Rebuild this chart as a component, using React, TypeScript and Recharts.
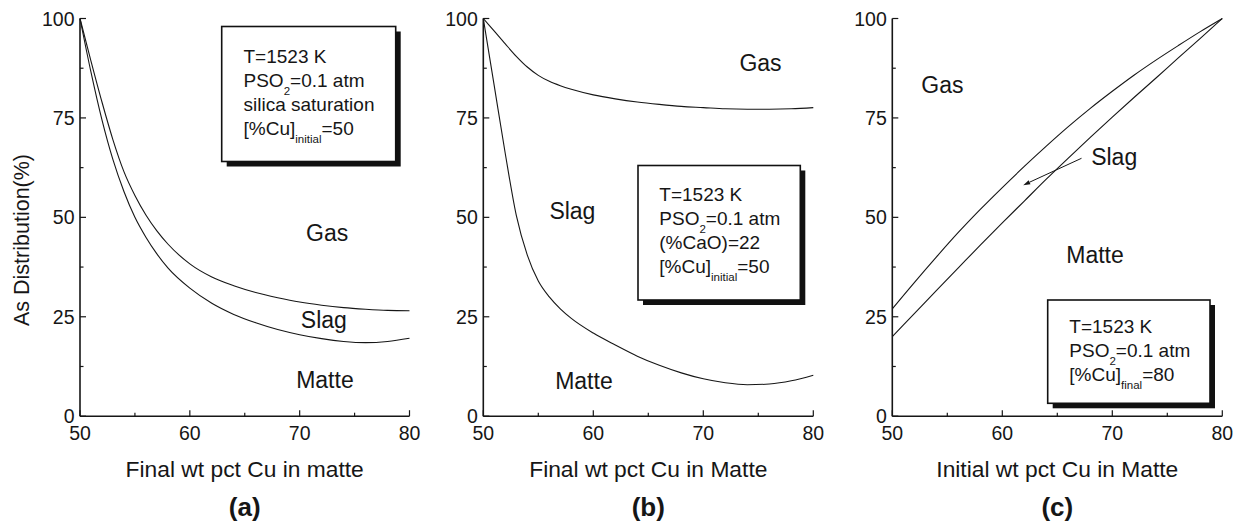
import { Line, LineChart, ReferenceDot, ReferenceLine, XAxis, YAxis } from 'recharts';

const FONT = '"Liberation Sans", Arial, Helvetica, sans-serif';
const INK = '#161616';

// (a) and (b): final wt pct Cu in matte
const xFinal = [50, 51, 52, 53, 54, 55, 56, 57, 58, 60, 62, 64, 66, 68, 70, 72, 74, 76, 78, 80];
const gasSlagA = [100, 89.3, 79, 69.5, 61.5, 55.5, 50.6, 46.6, 43.3, 38.3, 35, 32.8, 31.1, 29.8, 28.7, 27.9, 27.3, 26.9, 26.6, 26.5];
const slagMatteA = [100, 86.5, 74.5, 64.5, 56.5, 50, 45, 40.8, 37.3, 32.2, 28.4, 25.6, 23.5, 21.8, 20.5, 19.5, 18.8, 18.5, 18.8, 19.6];
const gasSlagB = [100, 96.8, 93.6, 90.5, 87.8, 85.7, 84.2, 83.1, 82.2, 80.8, 79.8, 79, 78.4, 77.9, 77.6, 77.3, 77.2, 77.2, 77.3, 77.6];
const slagMatteB = [100, 83, 66, 50.5, 40.5, 34, 30, 27, 24.6, 20.9, 17.9, 15.1, 12.8, 10.9, 9.4, 8.4, 7.9, 8.1, 8.9, 10.3];

// (c): initial wt pct Cu in matte
const xInitial = [50, 52, 54, 56, 58, 60, 62, 64, 66, 68, 70, 72, 74, 76, 78, 80];
const gasSlagC = [27, 33.6, 40, 46.2, 52, 57.5, 62.8, 67.9, 72.8, 77.4, 81.7, 85.8, 89.6, 93.2, 96.7, 100];
const slagMatteC = [20, 25.8, 31.6, 37.3, 43, 48.6, 54.1, 59.6, 64.9, 70.1, 75.2, 80.2, 85.1, 90.1, 95, 100];

const xTicks = [50, 55, 60, 65, 70, 75, 80];
const yTicks = [0, 12.5, 25, 37.5, 50, 62.5, 75, 87.5, 100];

type Region = { name: string; x: number; y: number };
const regionsA: Region[] = [
  { name: 'Gas', x: 72.5, y: 46 },
  { name: 'Slag', x: 72.2, y: 24.2 },
  { name: 'Matte', x: 72.3, y: 9.2 },
];
const regionsB: Region[] = [
  { name: 'Gas', x: 75.2, y: 88.9 },
  { name: 'Slag', x: 58.1, y: 51.6 },
  { name: 'Matte', x: 59.15, y: 8.8 },
];
const regionsC: Region[] = [
  { name: 'Gas', x: 54.56, y: 83.4 },
  { name: 'Slag', x: 70.17, y: 65.3 },
  { name: 'Matte', x: 68.43, y: 40.7 },
];
const slagArrowC = [
  { x: 67.2, y: 64.85 },
  { x: 61.9, y: 58.1 },
];

type BoxLine = { main: string; sub?: string; rest?: string };
const boxA: BoxLine[] = [
  { main: 'T=1523 K' },
  { main: 'PSO', sub: '2', rest: '=0.1 atm' },
  { main: 'silica saturation' },
  { main: '[%Cu]', sub: 'initial', rest: '=50' },
];
const boxB: BoxLine[] = [
  { main: 'T=1523 K' },
  { main: 'PSO', sub: '2', rest: '=0.1 atm' },
  { main: '(%CaO)=22' },
  { main: '[%Cu]', sub: 'initial', rest: '=50' },
];
const boxC: BoxLine[] = [
  { main: 'T=1523 K' },
  { main: 'PSO', sub: '2', rest: '=0.1 atm' },
  { main: '[%Cu]', sub: 'final', rest: '=80' },
];

const TICK_FONT = 19.5;
const MAJOR = 6;
const MINOR = 3.5;

const BottomTick = (props: any) => {
  const { x, y, payload } = props;
  const major = payload.value % 10 === 0;
  return (
    <g>
      <line x1={x} y1={y} x2={x} y2={y - (major ? MAJOR : MINOR)} stroke={INK} strokeWidth={1.2} />
      {major && (
        <text x={x} y={y + 23.5} textAnchor="middle" fontSize={TICK_FONT} fill={INK}>
          {payload.value}
        </text>
      )}
    </g>
  );
};

const TopTick = (props: any) => {
  const { x, y, payload } = props;
  const major = payload.value % 10 === 0;
  return <line x1={x} y1={y} x2={x} y2={y + (major ? MAJOR : MINOR)} stroke={INK} strokeWidth={1.2} />;
};

const LeftTick = (props: any) => {
  const { x, y, payload } = props;
  const major = payload.value % 25 === 0;
  return (
    <g>
      <line x1={x} y1={y} x2={x + (major ? MAJOR : MINOR)} y2={y} stroke={INK} strokeWidth={1.2} />
      {major && (
        <text x={x - 5.5} y={y + 7} textAnchor="end" fontSize={TICK_FONT} fill={INK}>
          {payload.value}
        </text>
      )}
    </g>
  );
};

const RightTick = (props: any) => {
  const { x, y, payload } = props;
  const major = payload.value % 25 === 0;
  return <line x1={x} y1={y} x2={x - (major ? MAJOR : MINOR)} y2={y} stroke={INK} strokeWidth={1.2} />;
};

const ArrowShape = (p: any) => {
  const { x1, y1, x2, y2 } = p;
  const ang = Math.atan2(y2 - y1, x2 - x1);
  const len = 7;
  const half = 2.2;
  const bx = x2 - len * Math.cos(ang);
  const by = y2 - len * Math.sin(ang);
  const px = -Math.sin(ang) * half;
  const py = Math.cos(ang) * half;
  return (
    <g>
      <line x1={x1} y1={y1} x2={bx} y2={by} stroke={INK} strokeWidth={1} />
      <polygon points={`${x2},${y2} ${bx + px},${by + py} ${bx - px},${by - py}`} fill={INK} />
    </g>
  );
};

const axisStyle = { stroke: INK, strokeWidth: 1.6 };

type PanelProps = {
  left: number;
  width: number;
  plotLeft: number;
  plotRight: number;
  xs: number[];
  upper: number[];
  lower: number[];
  regions: Region[];
  arrow?: { x: number; y: number }[];
};

const Panel = ({ left, width, plotLeft, plotRight, xs, upper, lower, regions, arrow }: PanelProps) => {
  const data = xs.map((x, i) => ({ x, upper: upper[i], lower: lower[i] }));
  return (
    <div style={{ position: 'absolute', left, top: 0 }}>
      <LineChart
        width={width}
        height={525}
        data={data}
        margin={{ top: 18.5, right: width - (plotRight - left), bottom: 0, left: 0 }}
      >
        <XAxis
          xAxisId="b"
          dataKey="x"
          type="number"
          domain={[50, 80]}
          ticks={xTicks}
          interval={0}
          height={108.8}
          tickSize={0}
          tickMargin={0}
          tickLine={false}
          tick={BottomTick}
          axisLine={axisStyle}
        />
        <XAxis
          xAxisId="t"
          orientation="top"
          dataKey="x"
          type="number"
          domain={[50, 80]}
          ticks={xTicks}
          interval={0}
          height={0}
          tickSize={0}
          tickMargin={0}
          tickLine={false}
          tick={TopTick}
          axisLine={axisStyle}
        />
        <YAxis
          yAxisId="l"
          type="number"
          domain={[0, 100]}
          ticks={yTicks}
          interval={0}
          width={plotLeft - left}
          tickSize={0}
          tickMargin={0}
          tickLine={false}
          tick={LeftTick}
          axisLine={axisStyle}
        />
        <YAxis
          yAxisId="r"
          orientation="right"
          type="number"
          domain={[0, 100]}
          ticks={yTicks}
          interval={0}
          width={0}
          tickSize={0}
          tickMargin={0}
          tickLine={false}
          tick={RightTick}
          axisLine={axisStyle}
        />
        <Line xAxisId="b" yAxisId="l" dataKey="upper" type="monotone" stroke={INK} strokeWidth={1.1} dot={false} isAnimationActive={false} />
        <Line xAxisId="b" yAxisId="l" dataKey="lower" type="monotone" stroke={INK} strokeWidth={1.1} dot={false} isAnimationActive={false} />
        {regions.map((r) => (
          <ReferenceDot
            key={r.name}
            xAxisId="b"
            yAxisId="l"
            x={r.x}
            y={r.y}
            r={0}
            fill="none"
            stroke="none"
            label={{ value: r.name, position: 'center', fontSize: 23, fill: INK }}
          />
        ))}
        {arrow && (
          <ReferenceLine xAxisId="b" yAxisId="l" segment={arrow} stroke={INK} shape={ArrowShape} />
        )}
      </LineChart>
    </div>
  );
};

const InfoBox = ({ x, y, w, h, textX, firstBaseline, lines }: { x: number; y: number; w: number; h: number; textX: number; firstBaseline: number; lines: BoxLine[] }) => (
  <g>
    <rect x={x + 5} y={y + 5} width={w} height={h} fill="#111" />
    <rect x={x} y={y} width={w} height={h} fill="#fff" stroke="#111" strokeWidth={1.6} />
    {lines.map((ln, i) => (
      <text key={i} x={textX} y={firstBaseline + i * 24} fontSize={19} fill={INK}>
        <tspan>{ln.main}</tspan>
        {ln.sub && (
          <>
            <tspan fontSize={11.5} dy={8}>{ln.sub}</tspan>
            <tspan fontSize={19} dy={-8}>{ln.rest}</tspan>
          </>
        )}
      </text>
    ))}
  </g>
);

export default function App() {
  return (
    <div style={{ position: 'absolute', left: 0, top: 0, width: 1235, height: 525, background: '#fff', fontFamily: FONT }}>
      <Panel left={0} width={440} plotLeft={80} plotRight={409.5} xs={xFinal} upper={gasSlagA} lower={slagMatteA} regions={regionsA} />
      <Panel left={410} width={440} plotLeft={483.3} plotRight={813.3} xs={xFinal} upper={gasSlagB} lower={slagMatteB} regions={regionsB} />
      <Panel left={820} width={415} plotLeft={892.3} plotRight={1222.3} xs={xInitial} upper={gasSlagC} lower={slagMatteC} regions={regionsC} arrow={slagArrowC} />
      <svg width={1235} height={525} style={{ position: 'absolute', left: 0, top: 0, pointerEvents: 'none' }}>
        <text x={29} y={240} transform="rotate(-90 29 240)" textAnchor="middle" fontSize={21.5} fill={INK}>
          As Distribution(%)
        </text>
        <text x={244.7} y={476.5} textAnchor="middle" fontSize={22.8} fill={INK}>Final wt pct Cu in matte</text>
        <text x={648.3} y={476.5} textAnchor="middle" fontSize={22.8} fill={INK}>Final wt pct Cu in Matte</text>
        <text x={1057.3} y={476.5} textAnchor="middle" fontSize={22.8} fill={INK}>Initial wt pct Cu in Matte</text>
        <text x={244.7} y={516} textAnchor="middle" fontSize={26} fontWeight="bold" fill={INK}>(a)</text>
        <text x={648.3} y={516} textAnchor="middle" fontSize={26} fontWeight="bold" fill={INK}>(b)</text>
        <text x={1057.3} y={516} textAnchor="middle" fontSize={26} fontWeight="bold" fill={INK}>(c)</text>
        <InfoBox x={221.7} y={26.5} w={174} h={135} textX={243.5} firstBaseline={63.3} lines={boxA} />
        <InfoBox x={638} y={165.5} w={162.3} h={134.5} textX={659.3} firstBaseline={201} lines={boxB} />
        <InfoBox x={1047.7} y={300} w={162.3} h={103.3} textX={1069.3} firstBaseline={333.3} lines={boxC} />
      </svg>
    </div>
  );
}
